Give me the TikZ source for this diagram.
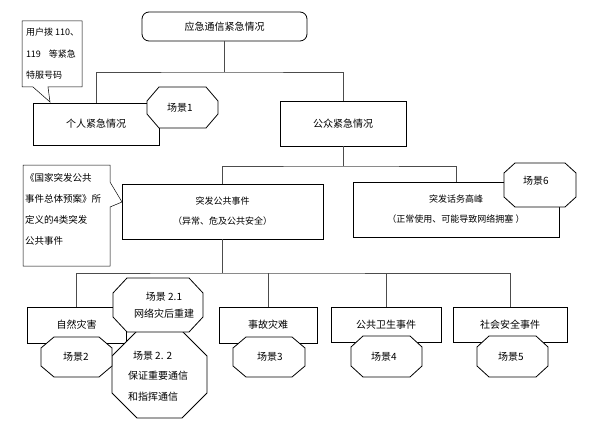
\documentclass[tikz,border=0pt]{standalone}
\usepackage{fontspec}
\setmainfont{Noto Sans CJK SC}

\begin{document}
\begin{tikzpicture}[x=1pt, y=-1pt, every node/.style={font=\fontsize{10}{12}\selectfont, outer sep=0pt},
  box/.style={draw, line width=0.8pt, fill=white, inner sep=0pt},
  link/.style={black!70, line width=0.5pt},
  note/.style={anchor=north west, align=left, inner sep=0pt},
  octline/.style={draw, fill=white, line width=0.8pt}]
  \useasboundingbox (0,0) rectangle (596,422);
  % boxes of the tree
  \node[box, rounded corners=7pt, minimum width=165pt, minimum height=29pt] (top) at (224.5,26.5) {应急通信紧急情况};
  \node[box, minimum width=126pt, minimum height=42pt] (personal) at (96,124) {个人紧急情况};
  \node[box, minimum width=126pt, minimum height=45pt] (public) at (343,123.5) {公众紧急情况};
  \node[box, align=center, font=\fontsize{9}{20}\selectfont, minimum width=201pt, minimum height=55pt] (burst) at (222.5,211.5) {突发公共事件\\（异常、危及公共安全）};
  \node[box, align=center, font=\fontsize{9}{20}\selectfont, minimum width=206pt, minimum height=55pt] (peak) at (456,209.5) {突发话务高峰\\（正常使用、可能导致网络拥塞 ）};
  \node[box, minimum width=99pt, minimum height=36pt] (nat) at (76.5,325) {自然灾害};
  \node[box, minimum width=98pt, minimum height=36pt] (acc) at (268,325) {事故灾难};
  \node[box, minimum width=110pt, minimum height=35pt] (health) at (386,324.5) {公共卫生事件};
  \node[box, minimum width=114pt, minimum height=35pt] (social) at (510,324.5) {社会安全事件};
  % connectors
  \coordinate (j1) at (224.5,72);
  \coordinate (j2) at (343,166);
  \coordinate (j3) at (222.5,273);
  \draw[link] (top) -- (j1);
  \draw[link] (personal.north) |- (j1) -| (public.north);
  \draw[link] (public) -- (j2);
  \draw[link] (burst.north) |- (j2) -| (peak.north);
  \draw[link] (burst) -- (j3);
  \draw[link] (nat.north) |- (j3) -| (social.north);
  \draw[link] (acc.north) -- (acc.north |- j3);
  \draw[link] (health.north) -- (health.north |- j3);
  % scenario octagons
  \foreach \xa/\ya/\xb/\yb/\cx/\cy in {147/87/218/128/12/14, 504/163/576/207/11/10,
    112/331/207/418/25/25, 113/278/203/332/14/15, 41/337/112/377/13/11,
    233/337/305/377/13/11, 351/336/422/377/12/11, 477/336/548/377/12/11}
    {\path[octline] ({\xa+\cx},\ya) -- ({\xb-\cx},\ya) -- (\xb,{\ya+\cy}) -- (\xb,{\yb-\cy})
      -- ({\xb-\cx},\yb) -- ({\xa+\cx},\yb) -- (\xa,{\yb-\cy}) -- (\xa,{\ya+\cy}) -- cycle;}
  \node (s1) at (180,108) {场景1};
  \node (s6) at (536,181) {场景6};
  \node[align=center, font=\fontsize{10}{17}\selectfont] (s21) at (164,305) {场景 2.1\\网络灾后重建};
  \node[note, font=\fontsize{10}{20.5}\selectfont] (s22) at (128,351) {\hspace{5pt}场景 2. 2\\保证重要通信\\和指挥通信};
  \node (s2) at (76,357) {场景2};
  \node (s3) at (270,357) {场景3};
  \node (s4) at (384,357) {场景4};
  \node (s5) at (511,357) {场景5};
  % callouts
  \path[octline, line width=0.5pt] (22,21) -- (82,21) -- (82,87) -- (48,87) -- (50,102) -- (33,87) -- (22,87) -- cycle;
  \node[note, font=\fontsize{9}{21.5}\selectfont] (hint1) at (26,28) {用户拨 110、\\119\hspace{8pt}等紧急\\特服号码};
  \path[octline, line width=0.5pt] (23,165) -- (110,165) -- (110,182) -- (122,202) -- (110,207) -- (110,266) -- (23,266) -- cycle;
  \node[note, font=\fontsize{9.5}{21}\selectfont] (hint2) at (25,173) {《国家突发公共\\事件总体预案》所\\定义的4类突发\\公共事件};
\end{tikzpicture}
\end{document}
